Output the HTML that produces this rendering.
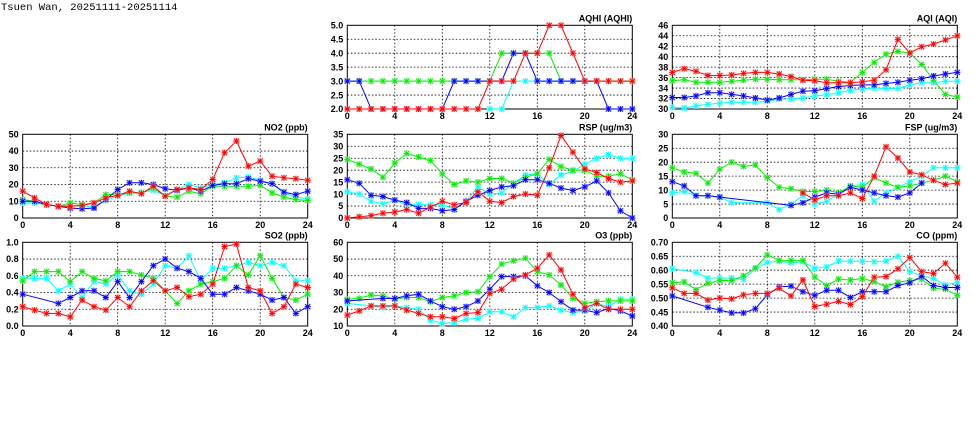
<!DOCTYPE html>
<html><head><meta charset="utf-8">
<style>
html,body{margin:0;padding:0;background:#fff;}
svg{display:block;font-family:"Liberation Sans",sans-serif;}
</style></head>
<body>
<svg id="chart" width="975" height="447" viewBox="0 0 975 447">
<text x="1" y="10" font-size="10.5" font-family="Liberation Mono, monospace">Tsuen Wan, 20251111-20251114</text>
</svg>
<script>
const hours = [0,1,2,3,4,5,6,7,8,9,10,11,12,13,14,15,16,17,18,19,20,21,22,23,24];
const xTicks = [0,4,8,12,16,20,24];
const n = null;

const aqhiRed   = [2,2,2,2,2,2,2,2,2,2,2,2,3,3,3,4,4,5,5,4,3,3,3,3,3];
const aqhiGreen = [3,3,3,3,3,3,3,3,3,3,3,3,3,4,4,4,4,4,3,3,3,3,3,3,3];
const aqhiBlue  = [3,3,2,2,2,2,2,2,2,3,3,3,3,3,4,4,3,3,3,3,3,3,2,2,2];
const aqhiCyan  = [n,n,n,n,n,n,n,n,n,n,n,n,2,2,3,3,3,3,3,3,3,3,3,3,3];
const aqhiTicks = ["2.0","2.5","3.0","3.5","4.0","4.5","5.0"];

const aqiRed   = [37,37.7,37.2,36.4,36.4,36.5,36.8,37,37,36.7,36.2,35.5,35.4,35,35,35,35.2,35.5,37.5,43.3,40.7,41.9,42.4,43.2,44];
const aqiGreen = [35.4,35.6,35.1,35.1,35.1,35.3,35.5,35.7,35.7,35.6,35.6,35.6,35.7,35.7,35.3,35.1,37,38.9,40.5,41,40.7,38.5,35.5,32.8,32.3];
const aqiBlue  = [32.2,32.2,32.5,33.1,33.1,32.8,32.5,32.1,31.7,32.1,32.8,33.4,33.5,33.9,34.3,34.5,34.6,34.6,34.9,35.1,35.5,35.8,36.3,36.7,37];
const aqiCyan  = [30.3,30.2,30.6,30.9,31.1,31.3,31.3,31.3,31.5,31.9,31.9,32.1,32.5,32.7,33.1,33.6,33.8,34,33.9,33.9,34.6,35,35,35.3,35.3];
const aqiTicks = ["30","32","34","36","38","40","42","44","46"];

const no2Red   = [16,12,8,7,7,7.5,9,12,13.5,16,14.5,19,13,17,18,17,23,39,46,31,34,25,24,23.5,22.5];
const no2Green = [11,10,8,7,9,8,9,14,14,15,15,18,13,12.5,16,14.5,19,19,19,19,19.5,15,12.5,11,10.5];
const no2Blue  = [10,10,8,7,6,5.5,6,11,17,21,21,20,17.5,16.5,18,16,19.5,20.5,20.5,23.5,22,20.5,15.5,14,16];
const no2Cyan  = [9,9,8,7,7.5,7,7,10.5,13,15,15.5,16.5,13.5,17,20,18,20,21,24,24.5,22.5,20.5,15,12.5,11.5];
const no2Ticks = ["0","10","20","30","40","50"];

const rspRed   = [0,0.5,1,2,2.5,3.5,2,4.5,7,5.5,6.5,11,7,6.5,9,10,9.5,21,34.5,27.5,20.5,19,16.5,15,15.5];
const rspGreen = [24.5,22.5,20.5,17,23,27,25.5,24,18.5,14,15.5,15,16.5,16.5,14.5,17,18.5,24.5,21.5,20,20,17.5,17.5,18.5,16];
const rspBlue  = [16,14.5,9.5,9,7.5,6.5,4,4,3,3.5,7,9.5,11.5,13,13.5,16,16,14.5,12.5,11.5,13,15.5,10.5,3,0];
const rspCyan  = [11,10,7,6,7.5,5.5,5.5,5.5,5.5,4,7,13,10,10.5,14.5,18,18.5,14,18,19.5,22.5,25,26.5,25,25];
const rspTicks = ["0","5","10","15","20","25","30","35"];

const fspRed   = [n,n,n,n,n,n,n,n,n,n,n,9,6.5,8,8,9,7,15,25.5,21.5,16.5,15.5,13.5,12,12.5];
const fspGreen = [18,16.5,16,12.5,17.5,20,18.5,19,14.5,11,10.5,9.5,9.5,10,9,11.5,11,14.5,12.5,11,11.5,12.5,13.5,15,13];
const fspBlue  = [13,11.5,8,8,7.5,n,n,n,n,n,4.5,5.5,7.5,9,8.5,11,10,9,8,7.5,9,12.5,n,n,n];
const fspCyan  = [9,9.5,8,8,7.5,5.5,n,n,5.5,3,5,8,5,6,8.5,11.5,12,6,9,11,13,15,18,18,18];
const fspTicks = ["0","5","10","15","20","25","30"];

const so2Red   = [.23,.19,.15,.15,.11,.31,.23,.19,.34,.23,.42,.54,.42,.46,.35,.38,.50,.95,.98,.46,.42,.15,.23,.50,.46];
const so2Green = [.54,.65,.65,.65,.53,.65,.57,.54,.65,.65,.61,.57,.42,.27,.42,.50,.53,.57,.72,.61,.84,.57,.34,.31,.38];
const so2Blue  = [.38,n,n,.27,.34,.42,.42,.34,.53,.34,.53,.72,.80,.69,.65,.57,.38,.38,.46,.42,.38,.31,.34,.15,.23];
const so2Cyan  = [.57,.57,.57,.42,.50,.34,.53,.50,.61,.42,.38,.50,.72,.69,.84,.54,.69,.69,.72,.76,.72,.76,.72,.54,.54];
const so2Ticks = ["0.0","0.2","0.4","0.6","0.8","1.0"];

const o3Red   = [16.5,19,22,22,22,19.5,17.5,15.5,15.5,14.5,17.5,18,29.5,32,38,40.5,44.5,52.5,43.5,29,21,23.5,20,20,20];
const o3Green = [26,26.5,28.5,28,26,27,27,24.5,27,28,30,30.5,39.5,47,49,50.5,42.5,40.5,34.5,26.5,23.5,24.5,25,25,25];
const o3Blue  = [25,n,n,26.5,26.5,28,29,25,21.5,20,21.5,25,32,39.5,39.5,40,34,30,24.5,19.5,19.5,18,20.5,19,16];
const o3Cyan  = [23.5,n,22,21,22,21,20,13.5,11.5,12,14,14.5,18.5,18.5,15.5,21,21,22,19.5,18,19,23.5,21.5,26,26];
const o3Ticks = ["10","20","30","40","50","60"];

const coRed   = [.537,.517,.517,.493,.500,.497,.512,.517,.517,.535,.508,.565,.470,.478,.488,.477,.505,.575,.577,.605,.645,.595,.588,.625,.575];
const coGreen = [.555,.558,.530,.553,.563,.563,.580,.608,.655,.635,.635,.635,.575,.545,.568,.565,.570,.560,.540,.557,.563,.568,.535,.532,.510];
const coBlue  = [.508,n,n,.467,.457,.447,.447,.462,.512,.540,.543,.523,.510,.528,.528,.502,.523,.523,.523,.545,.555,.578,.545,.538,.538];
const coCyan  = [.605,n,.592,.572,.572,.572,.567,.605,.628,.632,.627,.630,.607,.612,.633,.632,.632,.630,.633,.650,.595,.580,.570,.548,.555];
const coTicks = ["0.40","0.45","0.50","0.55","0.60","0.65","0.70"];

const NS = "http://www.w3.org/2000/svg";
const svg = document.getElementById('chart');
function mk(tag, attrs, parent){
  const e = document.createElementNS(NS, tag);
  for (const k in attrs) e.setAttribute(k, attrs[k]);
  (parent||svg).appendChild(e);
  return e;
}
const COLS = [22.7, 347.3, 672.3];
const ROWS = [25.3, 134.3, 242.3];
const W = 285, H = 83.7;
const COLORS = {cyan:"#00ffff", green:"#00ee00", blue:"#0000ff", red:"#ff0000"};
const LIGHT = {cyan:"#b0ffff", green:"#b0f0b0", blue:"#b0b0ff", red:"#ffb0b0"};

const panels = [
  {id:"aqhi", title:"AQHI (AQHI)", col:1,row:0, ticks:aqhiTicks, s:{cyan:aqhiCyan,green:aqhiGreen,blue:aqhiBlue,red:aqhiRed}},
  {id:"aqi", title:"AQI (AQI)", col:2,row:0, ticks:aqiTicks, s:{cyan:aqiCyan,green:aqiGreen,blue:aqiBlue,red:aqiRed}},
  {id:"no2", title:"NO2 (ppb)", col:0,row:1, ticks:no2Ticks, s:{cyan:no2Cyan,green:no2Green,blue:no2Blue,red:no2Red}},
  {id:"rsp", title:"RSP (ug/m3)", col:1,row:1, ticks:rspTicks, s:{cyan:rspCyan,green:rspGreen,blue:rspBlue,red:rspRed}},
  {id:"fsp", title:"FSP (ug/m3)", col:2,row:1, ticks:fspTicks, s:{cyan:fspCyan,green:fspGreen,blue:fspBlue,red:fspRed}},
  {id:"so2", title:"SO2 (ppb)", col:0,row:2, ticks:so2Ticks, s:{cyan:so2Cyan,green:so2Green,blue:so2Blue,red:so2Red}},
  {id:"o3", title:"O3 (ppb)", col:1,row:2, ticks:o3Ticks, s:{cyan:o3Cyan,green:o3Green,blue:o3Blue,red:o3Red}},
  {id:"co", title:"CO (ppm)", col:2,row:2, ticks:coTicks, s:{cyan:coCyan,green:coGreen,blue:coBlue,red:coRed}}
];

panels.forEach(p => {
  const L = COLS[p.col], T = ROWS[p.row];
  const ymin = parseFloat(p.ticks[0]), ymax = parseFloat(p.ticks[p.ticks.length-1]);
  const xs = v => L + v/24*W;
  const ys = v => T + H - (Math.max(ymin, Math.min(ymax, v)) - ymin)/(ymax-ymin)*H;
  const g = mk('g', {});
  
  
  xTicks.forEach(t => {
    if (t>0 && t<24) {
      const gl = mk('line', {x1:xs(t), x2:xs(t), y1:T, y2:T+H, stroke:"#000", "stroke-width":0.8, "stroke-dasharray":"1.5,2"}, g);
      
      
    }
    const tl = mk('text', {x:xs(t), y:T+H+10, "font-size":9, "font-weight":"bold", "text-anchor":"middle"}, g);
    tl.textContent = t;
    
    
  });
  p.ticks.forEach((lab, i) => {
    const v = parseFloat(lab);
    if (i>0 && i<p.ticks.length-1) {
      const gl = mk('line', {x1:L, x2:L+W, y1:ys(v), y2:ys(v), stroke:"#000", "stroke-width":0.8, "stroke-dasharray":"1.5,2"}, g);
      
      
    }
    const tl = mk('text', {x:L-4, y:ys(v)+3.2, "font-size":9, "font-weight":"bold", "text-anchor":"end"}, g);
    tl.textContent = lab;
    
    
  });
  const frame = mk('rect', {x:L, y:T, width:W, height:H, fill:"none", stroke:"#000", "stroke-width":1}, g);
  
  
  const title = mk('text', {x:L+W, y:T-4, "font-size":9, "font-weight":"bold", "text-anchor":"end"}, g);
  title.textContent = p.title;
  
  
  ["cyan","green","blue","red"].forEach(c => {
    const vals = p.s[c];
    const pts = [];
    vals.forEach((v,i) => { if (v !== null) pts.push([xs(hours[i]), ys(v)]); });
    if (!pts.length) return;
    const line = mk('polyline', {points: pts.map(q=>q[0].toFixed(1)+","+q[1].toFixed(1)).join(" "), fill:"none", stroke:COLORS[c], "stroke-width":1}, g);
    
    
    pts.forEach(q => {
      const m = mk('g', {transform:"translate("+q[0].toFixed(1)+","+q[1].toFixed(1)+")"}, g);
      
      
      mk('rect', {x:-3, y:-3, width:6, height:6, fill:LIGHT[c], opacity:0.6}, m);
      mk('path', {d:"M-2.5,-2.5L2.5,2.5M-2.5,2.5L2.5,-2.5M0,-3V3M-3,0H3", stroke:COLORS[c], "stroke-width":0.9}, m);
    });
  });
});
</script>
</body></html>
